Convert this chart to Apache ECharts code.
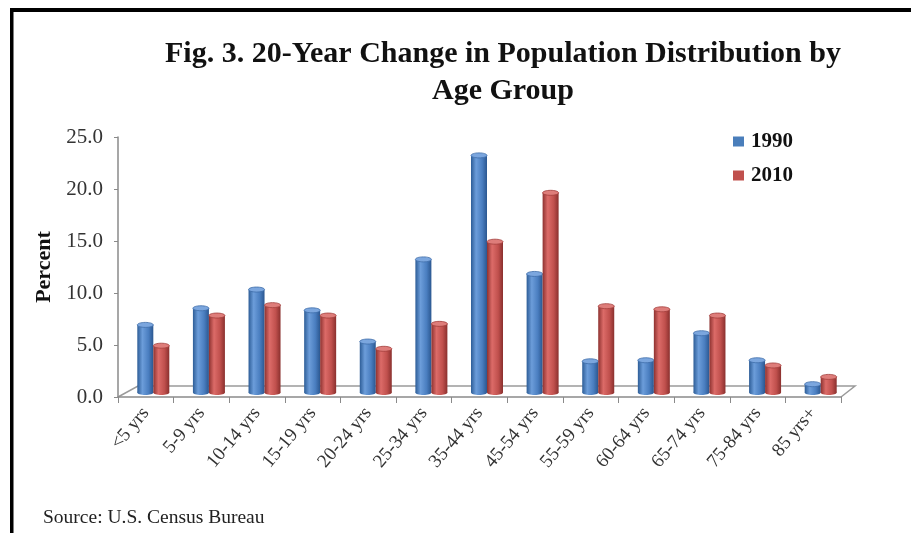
<!DOCTYPE html>
<html>
<head>
<meta charset="utf-8">
<script src="https://cdn.jsdelivr.net/npm/echarts@6/dist/echarts.min.js"></script>
<style>
  html, body { margin: 0; padding: 0; background: #fff; }
  #chart { width: 911px; height: 533px; }
</style>
</head>
<body>
<div id="chart"></div>
<script>
// Age groups and share of population (percent) for each census year
const ageGroups = ['<5 yrs', '5-9 yrs', '10-14 yrs', '15-19 yrs', '20-24 yrs', '25-34 yrs',
  '35-44 yrs', '45-54 yrs', '55-59 yrs', '60-64 yrs', '65-74 yrs', '75-84 yrs', '85 yrs+'];
const pct1990 = [6.5, 8.1, 9.9, 7.9, 4.9, 12.8, 22.8, 11.4, 3.0, 3.1, 5.7, 3.1, 0.8];
const pct2010 = [4.5, 7.4, 8.4, 7.4, 4.2, 6.6, 14.5, 19.2, 8.3, 8.0, 7.4, 2.6, 1.5];
const yearNames = ['1990', '2010'];

const SERIF = '"Liberation Serif", "Times New Roman", serif';

// Layout of the plot area and the pseudo-3D depth of the floor
const GRID = { left: 118, right: 70, top: 137, bottom: 136 };
const DEPTH_X = 20, DEPTH_Y = 11;   // floor back edge offset
const BAR_DX = 7.5, BAR_DY = 4.5;   // bars stand in the middle of the floor
const BAR_W = 16, CAP_RY = 2.5;

// Cylinder shading per series
const shades = [
  { flat: '#4A7EBB', stops: ['#2D5D97', '#6C9DDA', '#4A7EC0', '#2B5790'], cap: '#7BA6DE', capLine: '#3D6CA8' },
  { flat: '#C0504D', stops: ['#8E3230', '#DC6B68', '#C0504D', '#8A302E'], cap: '#DE7D7A', capLine: '#A23E3B' }
];

function cylinder(sIdx) {
  return function (params, api) {
    const i = api.value(0);
    const v = api.value(1);
    const base = api.coord([i, 0]);
    const top = api.coord([i, v]);
    const sh = shades[sIdx];
    const cx = base[0] + BAR_DX + (sIdx === 0 ? -BAR_W / 2 : BAR_W / 2);
    const yTop = top[1] - BAR_DY;
    const yBot = base[1] - BAR_DY;
    const grad = new echarts.graphic.LinearGradient(0, 0, 1, 0, [
      { offset: 0, color: sh.stops[0] },
      { offset: 0.32, color: sh.stops[1] },
      { offset: 0.7, color: sh.stops[2] },
      { offset: 1, color: sh.stops[3] }
    ]);
    return {
      type: 'group',
      children: [
        { type: 'ellipse', shape: { cx: cx, cy: yBot, rx: BAR_W / 2, ry: CAP_RY }, style: { fill: grad } },
        { type: 'rect', shape: { x: cx - BAR_W / 2, y: yTop, width: BAR_W, height: yBot - yTop }, style: { fill: grad } },
        { type: 'ellipse', shape: { cx: cx, cy: yTop, rx: BAR_W / 2, ry: CAP_RY },
          style: { fill: sh.cap, stroke: sh.capLine, lineWidth: 0.8 } }
      ]
    };
  };
}

const chart = echarts.init(document.getElementById('chart'), null, { renderer: 'canvas' });

const frontY = 533 - GRID.bottom;
const leftX = GRID.left;
const rightX = 911 - GRID.right;

chart.setOption({
  animation: false,
  backgroundColor: '#ffffff',
  title: {
    text: 'Fig. 3. 20-Year Change in Population Distribution by\nAge Group',
    left: 498,
    top: 31,
    textAlign: 'center',
    textStyle: { fontFamily: SERIF, fontWeight: 'bold', fontSize: 30, lineHeight: 37, color: '#111' }
  },
  legend: {
    orient: 'vertical',
    left: 728,
    top: 126,
    itemWidth: 11,
    itemHeight: 10,
    itemGap: 13,
    icon: 'rect',
    data: yearNames,
    textStyle: { fontFamily: SERIF, fontWeight: 'bold', fontSize: 21, color: '#111', padding: [0, 0, 0, 2] }
  },
  grid: { left: GRID.left, right: GRID.right, top: GRID.top, bottom: GRID.bottom, containLabel: false },
  xAxis: {
    type: 'category',
    data: ageGroups,
    axisLine: { show: true, lineStyle: { color: '#8a8a8a', width: 1.5 } },
    axisTick: { show: true, length: 6, lineStyle: { color: '#8a8a8a' } },
    axisLabel: { rotate: 50, margin: 13, fontFamily: SERIF, fontSize: 19, color: '#333', interval: 0 },
    splitLine: { show: false }
  },
  yAxis: {
    type: 'value',
    min: 0, max: 25, interval: 5,
    name: 'Percent',
    nameLocation: 'middle',
    nameRotate: 90,
    nameGap: 62,
    nameTextStyle: { fontFamily: SERIF, fontWeight: 'bold', fontSize: 22, color: '#111' },
    axisLine: { show: true, lineStyle: { color: '#8a8a8a', width: 1.5 } },
    axisTick: { show: true, length: 4, lineStyle: { color: '#8a8a8a' } },
    axisLabel: { margin: 15, fontFamily: SERIF, fontSize: 21, color: '#333', formatter: v => v.toFixed(1) },
    splitLine: { show: false }
  },
  graphic: [
    // frame lines on the top and left
    { type: 'rect', shape: { x: 10, y: 8, width: 901, height: 4 }, style: { fill: '#000' }, z: 100 },
    { type: 'rect', shape: { x: 10, y: 8, width: 3.5, height: 525 }, style: { fill: '#000' }, z: 100 },
    // floor of the plot (side and back edges)
    { type: 'polyline', shape: { points: [[leftX, frontY], [leftX + DEPTH_X, frontY - DEPTH_Y],
        [rightX + DEPTH_X - 6, frontY - DEPTH_Y], [rightX, frontY]] },
      style: { stroke: '#9a9a9a', lineWidth: 1.5, fill: null }, z: 0 },
    { type: 'text', left: 43, top: 508,
      style: { text: 'Source: U.S. Census Bureau', font: '19.5px ' + SERIF, fill: '#222' } }
  ],
  series: [
    { name: yearNames[0], type: 'custom', renderItem: cylinder(0), itemStyle: { color: shades[0].flat },
      encode: { x: 0, y: 1 }, data: pct1990.map((v, i) => [i, v]) },
    { name: yearNames[1], type: 'custom', renderItem: cylinder(1), itemStyle: { color: shades[1].flat },
      encode: { x: 0, y: 1 }, data: pct2010.map((v, i) => [i, v]) }
  ]
});
</script>
</body>
</html>
